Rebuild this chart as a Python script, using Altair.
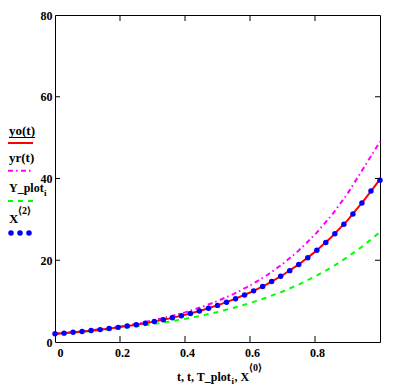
import altair as alt
import pandas as pd

FONT = "Liberation Serif"

# ---- data ----
t_line = [0.0, 0.05, 0.1, 0.15, 0.2, 0.25, 0.3, 0.35, 0.4, 0.45, 0.5,
          0.55, 0.6, 0.65, 0.7, 0.75, 0.8, 0.85, 0.9, 0.95, 1.0]
yo = [2.0, 2.32, 2.70, 3.14, 3.64, 4.23, 4.92, 5.72, 6.64, 7.71, 8.96,
      10.42, 12.10, 14.06, 16.33, 18.98, 22.05, 25.62, 29.76, 34.58, 39.8]
yr = [2.0, 2.35, 2.76, 3.24, 3.81, 4.47, 5.25, 6.17, 7.25, 8.52, 10.01,
      11.75, 13.81, 16.22, 19.05, 22.38, 26.29, 30.88, 36.27, 42.61, 49.0]
yplot = [2.0, 2.28, 2.59, 2.95, 3.36, 3.83, 4.36, 4.97, 5.66, 6.44, 7.34,
         8.36, 9.52, 10.84, 12.34, 14.06, 16.01, 18.23, 20.76, 23.64, 26.9]

t_dots = [0.0, 0.0278, 0.0556, 0.0833, 0.1111, 0.1389, 0.1667, 0.1944, 0.2222,
          0.25, 0.2778, 0.3056, 0.3333, 0.3611, 0.3889, 0.4167, 0.4444, 0.4722,
          0.5, 0.5278, 0.5556, 0.5833, 0.6111, 0.6389, 0.6667, 0.6944, 0.7222,
          0.75, 0.7778, 0.8056, 0.8333, 0.8611, 0.8889, 0.9167, 0.9444, 0.9722, 1.0]
x2 = [2.0, 2.17, 2.36, 2.57, 2.79, 3.03, 3.30, 3.58, 3.90, 4.23, 4.60, 5.00,
      5.44, 5.91, 6.42, 6.98, 7.59, 8.25, 8.96, 9.74, 10.59, 11.51, 12.51,
      13.60, 14.78, 16.06, 17.46, 18.98, 20.63, 22.42, 24.37, 26.48, 28.78,
      31.29, 34.00, 36.96, 39.6]

x_tick_labels = [0, 0.2, 0.4, 0.6, 0.8]
y_tick_labels = [0, 20, 40, 60, 80]
x_inner_ticks = [0.2, 0.4, 0.6, 0.8]
y_inner_ticks = [20, 40, 60]

lines_df = pd.DataFrame({"t": t_line, "yo": yo, "yr": yr, "yp": yplot})
dots_df = pd.DataFrame({"t": t_dots, "x": x2})
xt_df = pd.DataFrame({"t": x_inner_ticks})
yt_df = pd.DataFrame({"y": y_inner_ticks})
one = pd.DataFrame({"k": [0]})

W, H = 325, 327
xs = alt.Scale(domain=[0, 1], nice=False, zero=False)
ys = alt.Scale(domain=[0, 80], nice=False)

x_axis = alt.Axis(values=x_tick_labels, format="~g", title=None, ticks=False,
                  domain=False, grid=False, labelFont=FONT, labelFontSize=12,
                  labelFontWeight="bold", labelColor="black", labelPadding=5,
                  labelOffset=2, labelOverlap=False)
y_axis = alt.Axis(values=y_tick_labels, title=None, ticks=False, domain=False,
                  grid=False, labelFont=FONT, labelFontSize=12,
                  labelFontWeight="bold", labelColor="black", labelPadding=3,
                  labelOverlap=False)

X = alt.X("t:Q", scale=xs, axis=x_axis)


def Y(f):
    return alt.Y(f"{f}:Q", scale=ys, axis=y_axis, title=None)


base = alt.Chart(lines_df)

green = base.mark_line(color="#00ff00", strokeWidth=2, strokeDash=[5, 5]).encode(
    x=X, y=Y("yp"))
magenta = base.mark_line(color="#ff00ff", strokeWidth=2,
                         strokeDash=[5, 3, 1.5, 3.5]).encode(x=X, y=Y("yr"))
red = base.mark_line(color="#ff0000", strokeWidth=2).encode(x=X, y=Y("yo"))
blue = alt.Chart(dots_df).mark_point(filled=True, color="#0000ff", size=30,
                                     opacity=1).encode(x=X, y=Y("x"))

xt_bottom = alt.Chart(xt_df).mark_rule(color="black", strokeWidth=1).encode(
    x=X, y=alt.value(H), y2=alt.value(H - 6))
xt_top = alt.Chart(xt_df).mark_rule(color="black", strokeWidth=1).encode(
    x=X, y=alt.value(0), y2=alt.value(6))
yt_left = alt.Chart(yt_df).mark_rule(color="black", strokeWidth=1).encode(
    y=Y("y"), x=alt.value(0), x2=alt.value(5))
yt_right = alt.Chart(yt_df).mark_rule(color="black", strokeWidth=1).encode(
    y=Y("y"), x=alt.value(W - 5), x2=alt.value(W))


def txt(s, x, y, size=13):
    return alt.Chart(one).mark_text(
        text=s, align="left", baseline="alphabetic", font=FONT, fontSize=size,
        fontWeight="bold", color="black").encode(x=alt.value(x), y=alt.value(y))


def lrule(y, color, dash=None, width=2, x0=-47, x1=-22):
    kw = dict(color=color, strokeWidth=width)
    if dash:
        kw["strokeDash"] = dash
    return alt.Chart(one).mark_rule(**kw).encode(
        x=alt.value(x0), x2=alt.value(x1), y=alt.value(y))


def ldot(x, y):
    return alt.Chart(one).mark_point(filled=True, color="#0000ff", size=30,
                                     opacity=1).encode(x=alt.value(x), y=alt.value(y))


legend = [
    txt("yo(t)", -46, 120),
    lrule(122.5, "black", width=1, x0=-46, x1=-20),
    lrule(128, "#ff0000"),
    txt("yr(t)", -46, 147),
    lrule(155.7, "#ff00ff", dash=[5, 3, 1.5, 3.5]),
    txt("Y_plot", -46, 177, size=12),
    txt("i", -11, 181, size=9),
    lrule(186, "#00ff00", dash=[5, 5]),
    txt("X", -46, 208),
    txt("⟨2⟩", -37, 199, size=10),
    ldot(-44, 218), ldot(-35, 218), ldot(-26, 218),
]

title = [
    txt("t, t, T_plot", 122, 366, size=12),
    txt("i", 176.5, 369, size=9),
    txt(", X", 179.5, 366, size=12),
    txt("⟨0⟩", 194, 356, size=10),
]

chart = alt.layer(
    green, magenta, red, blue, xt_bottom, xt_top, yt_left, yt_right,
    *legend, *title
).properties(
    width=W, height=H,
    autosize=alt.AutoSizeParams(type="none"),
    padding={"left": 47, "top": 7, "right": 9, "bottom": 46},
).configure_view(stroke="black", strokeWidth=1)

chart.save("out.html", embed_options={"renderer": "svg", "actions": False})
